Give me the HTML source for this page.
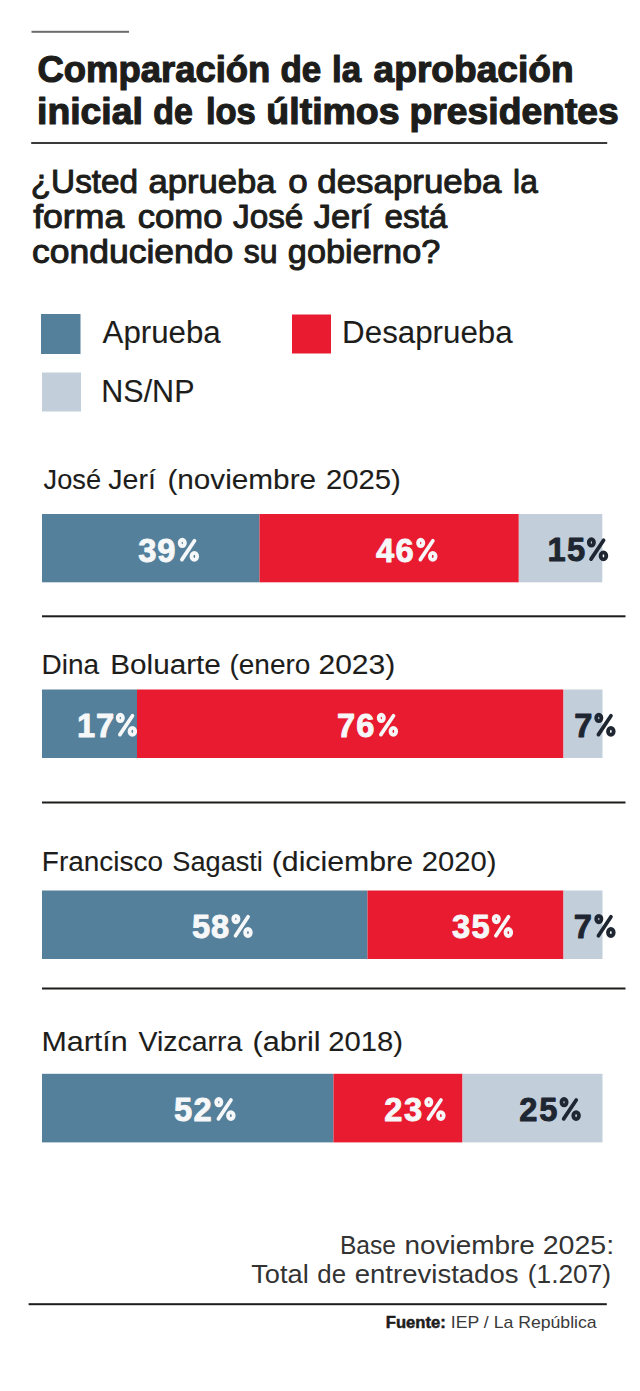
<!DOCTYPE html>
<html><head><meta charset="utf-8"><title>Comparación de la aprobación inicial</title>
<style>
html,body{margin:0;padding:0;background:#fff;width:640px;height:1391px;overflow:hidden}
svg{display:block;font-family:"Liberation Sans",sans-serif}
</style></head><body>
<svg width="640" height="1391" viewBox="0 0 640 1391">
<rect width="640" height="1391" fill="#ffffff"/>

<rect x="31.5" y="30.8" width="97.5" height="2" fill="#6b6b6b"/>
<rect x="31.2" y="142" width="576" height="2" fill="#3a3a3a"/>
<rect x="41" y="314" width="39.5" height="40" fill="#55809b"/>
<rect x="292" y="314.5" width="39" height="39" fill="#e91b30"/>
<rect x="42" y="372.5" width="39" height="39" fill="#c2cfdb"/>

<rect x="42" y="514" width="217.5" height="68.3" fill="#55809b"/>
<rect x="259.5" y="514" width="259.3" height="68.3" fill="#e91b30"/>
<rect x="518.8" y="514" width="83.5" height="68.3" fill="#c2cfdb"/>
<rect x="42" y="615.3" width="583.5" height="2" fill="#1d1d1b"/>

<rect x="42" y="689.5" width="95" height="68.5" fill="#55809b"/>
<rect x="137" y="689.5" width="426.5" height="68.5" fill="#e91b30"/>
<rect x="563.5" y="689.5" width="39" height="68.5" fill="#c2cfdb"/>
<rect x="42" y="801.5" width="583.5" height="2" fill="#1d1d1b"/>

<rect x="42" y="890.5" width="325.5" height="68.5" fill="#55809b"/>
<rect x="367.5" y="890.5" width="196" height="68.5" fill="#e91b30"/>
<rect x="563.5" y="890.5" width="39" height="68.5" fill="#c2cfdb"/>
<rect x="42" y="987.5" width="583.5" height="2" fill="#1d1d1b"/>

<rect x="42" y="1073.8" width="291.5" height="68.6" fill="#55809b"/>
<rect x="333.5" y="1073.8" width="129" height="68.6" fill="#e91b30"/>
<rect x="462.5" y="1073.8" width="140" height="68.6" fill="#c2cfdb"/>

<rect x="28.6" y="1303.2" width="578.2" height="2" fill="#1d1d1b"/>

<text transform="translate(37.45 81.90) scale(0.9762 1)" font-size="37.35" font-weight="bold" fill="#1d1d1b" stroke="#1d1d1b" stroke-width="1.2" stroke-linejoin="round">Comparación</text>
<text transform="translate(280.47 81.90) scale(0.9369 1)" font-size="37.35" font-weight="bold" fill="#1d1d1b" stroke="#1d1d1b" stroke-width="1.2" stroke-linejoin="round">de</text>
<text transform="translate(332.08 81.90) scale(0.9354 1)" font-size="37.35" font-weight="bold" fill="#1d1d1b" stroke="#1d1d1b" stroke-width="1.2" stroke-linejoin="round">la</text>
<text transform="translate(373.62 81.90) scale(0.9938 1)" font-size="37.35" font-weight="bold" fill="#1d1d1b" stroke="#1d1d1b" stroke-width="1.2" stroke-linejoin="round">aprobación</text>
<text transform="translate(37.07 124.20) scale(0.9991 1)" font-size="37.35" font-weight="bold" fill="#1d1d1b" stroke="#1d1d1b" stroke-width="1.2" stroke-linejoin="round">inicial</text>
<text transform="translate(153.24 124.20) scale(0.9076 1)" font-size="37.35" font-weight="bold" fill="#1d1d1b" stroke="#1d1d1b" stroke-width="1.2" stroke-linejoin="round">de</text>
<text transform="translate(205.89 124.20) scale(0.9255 1)" font-size="37.35" font-weight="bold" fill="#1d1d1b" stroke="#1d1d1b" stroke-width="1.2" stroke-linejoin="round">los</text>
<text transform="translate(266.34 124.20) scale(1.0038 1)" font-size="37.35" font-weight="bold" fill="#1d1d1b" stroke="#1d1d1b" stroke-width="1.2" stroke-linejoin="round">últimos</text>
<text transform="translate(409.52 124.20) scale(0.9986 1)" font-size="37.35" font-weight="bold" fill="#1d1d1b" stroke="#1d1d1b" stroke-width="1.2" stroke-linejoin="round">presidentes</text>
<text transform="translate(30.72 193.25) scale(1.0081 1)" font-size="33.07" font-weight="normal" fill="#1d1d1b" stroke="#1d1d1b" stroke-width="1.0" stroke-linejoin="round">¿Usted</text>
<text transform="translate(148.44 193.25) scale(1.0483 1)" font-size="33.07" font-weight="normal" fill="#1d1d1b" stroke="#1d1d1b" stroke-width="1.0" stroke-linejoin="round">aprueba</text>
<text transform="translate(288.34 193.25) scale(1.0578 1)" font-size="33.07" font-weight="normal" fill="#1d1d1b" stroke="#1d1d1b" stroke-width="1.0" stroke-linejoin="round">o</text>
<text transform="translate(317.24 193.25) scale(1.0552 1)" font-size="33.07" font-weight="normal" fill="#1d1d1b" stroke="#1d1d1b" stroke-width="1.0" stroke-linejoin="round">desaprueba</text>
<text transform="translate(513.10 193.25) scale(0.9566 1)" font-size="33.07" font-weight="normal" fill="#1d1d1b" stroke="#1d1d1b" stroke-width="1.0" stroke-linejoin="round">la</text>
<text transform="translate(33.14 228.25) scale(1.0778 1)" font-size="33.07" font-weight="normal" fill="#1d1d1b" stroke="#1d1d1b" stroke-width="1.0" stroke-linejoin="round">forma</text>
<text transform="translate(137.74 228.25) scale(1.0480 1)" font-size="33.07" font-weight="normal" fill="#1d1d1b" stroke="#1d1d1b" stroke-width="1.0" stroke-linejoin="round">como</text>
<text transform="translate(232.98 228.25) scale(1.0074 1)" font-size="33.07" font-weight="normal" fill="#1d1d1b" stroke="#1d1d1b" stroke-width="1.0" stroke-linejoin="round">José</text>
<text transform="translate(313.68 228.25) scale(1.0463 1)" font-size="33.07" font-weight="normal" fill="#1d1d1b" stroke="#1d1d1b" stroke-width="1.0" stroke-linejoin="round">Jerí</text>
<text transform="translate(384.46 228.25) scale(1.0051 1)" font-size="33.07" font-weight="normal" fill="#1d1d1b" stroke="#1d1d1b" stroke-width="1.0" stroke-linejoin="round">está</text>
<text transform="translate(31.93 263.25) scale(1.0743 1)" font-size="33.07" font-weight="normal" fill="#1d1d1b" stroke="#1d1d1b" stroke-width="1.0" stroke-linejoin="round">conduciendo</text>
<text transform="translate(243.68 263.25) scale(0.9687 1)" font-size="33.07" font-weight="normal" fill="#1d1d1b" stroke="#1d1d1b" stroke-width="1.0" stroke-linejoin="round">su</text>
<text transform="translate(287.85 263.25) scale(1.0367 1)" font-size="33.07" font-weight="normal" fill="#1d1d1b" stroke="#1d1d1b" stroke-width="1.0" stroke-linejoin="round">gobierno?</text>
<text transform="translate(102.55 343.15) scale(0.9912 1)" font-size="31.54" font-weight="normal" fill="#1d1d1b" stroke="#1d1d1b" stroke-width="0.1" stroke-linejoin="round">Aprueba</text>
<text transform="translate(342.10 343.15) scale(0.9931 1)" font-size="31.54" font-weight="normal" fill="#1d1d1b" stroke="#1d1d1b" stroke-width="0.1" stroke-linejoin="round">Desaprueba</text>
<text transform="translate(101.26 401.95) scale(0.9811 1)" font-size="31.10" font-weight="normal" fill="#1d1d1b" stroke="#1d1d1b" stroke-width="0.1" stroke-linejoin="round">NS/NP</text>
<text transform="translate(43.62 488.65) scale(0.9593 1)" font-size="28.34" font-weight="normal" fill="#1d1d1b" stroke="#1d1d1b" stroke-width="0.1" stroke-linejoin="round">José</text>
<text transform="translate(108.36 488.65) scale(1.0053 1)" font-size="28.34" font-weight="normal" fill="#1d1d1b" stroke="#1d1d1b" stroke-width="0.1" stroke-linejoin="round">Jerí</text>
<text transform="translate(167.41 488.65) scale(1.0492 1)" font-size="28.34" font-weight="normal" fill="#1d1d1b" stroke="#1d1d1b" stroke-width="0.1" stroke-linejoin="round">(noviembre</text>
<text transform="translate(325.88 488.65) scale(1.0345 1)" font-size="28.34" font-weight="normal" fill="#1d1d1b" stroke="#1d1d1b" stroke-width="0.1" stroke-linejoin="round">2025)</text>
<text transform="translate(41.61 674.15) scale(0.9875 1)" font-size="28.34" font-weight="normal" fill="#1d1d1b" stroke="#1d1d1b" stroke-width="0.1" stroke-linejoin="round">Dina</text>
<text transform="translate(110.23 674.15) scale(1.0479 1)" font-size="28.34" font-weight="normal" fill="#1d1d1b" stroke="#1d1d1b" stroke-width="0.1" stroke-linejoin="round">Boluarte</text>
<text transform="translate(229.44 674.15) scale(0.9893 1)" font-size="28.34" font-weight="normal" fill="#1d1d1b" stroke="#1d1d1b" stroke-width="0.1" stroke-linejoin="round">(enero</text>
<text transform="translate(318.44 674.15) scale(1.0602 1)" font-size="28.34" font-weight="normal" fill="#1d1d1b" stroke="#1d1d1b" stroke-width="0.1" stroke-linejoin="round">2023)</text>
<text transform="translate(41.87 870.75) scale(0.9859 1)" font-size="28.34" font-weight="normal" fill="#1d1d1b" stroke="#1d1d1b" stroke-width="0.1" stroke-linejoin="round">Francisco</text>
<text transform="translate(172.30 870.75) scale(0.9588 1)" font-size="28.34" font-weight="normal" fill="#1d1d1b" stroke="#1d1d1b" stroke-width="0.1" stroke-linejoin="round">Sagasti</text>
<text transform="translate(271.73 870.75) scale(1.0683 1)" font-size="28.34" font-weight="normal" fill="#1d1d1b" stroke="#1d1d1b" stroke-width="0.1" stroke-linejoin="round">(diciembre</text>
<text transform="translate(421.78 870.75) scale(1.0302 1)" font-size="28.34" font-weight="normal" fill="#1d1d1b" stroke="#1d1d1b" stroke-width="0.1" stroke-linejoin="round">2020)</text>
<text transform="translate(41.43 1050.95) scale(1.0735 1)" font-size="28.34" font-weight="normal" fill="#1d1d1b" stroke="#1d1d1b" stroke-width="0.1" stroke-linejoin="round">Martín</text>
<text transform="translate(138.45 1050.95) scale(1.0047 1)" font-size="28.34" font-weight="normal" fill="#1d1d1b" stroke="#1d1d1b" stroke-width="0.1" stroke-linejoin="round">Vizcarra</text>
<text transform="translate(252.62 1050.95) scale(1.0801 1)" font-size="28.34" font-weight="normal" fill="#1d1d1b" stroke="#1d1d1b" stroke-width="0.1" stroke-linejoin="round">(abril</text>
<text transform="translate(328.18 1050.95) scale(1.0330 1)" font-size="28.34" font-weight="normal" fill="#1d1d1b" stroke="#1d1d1b" stroke-width="0.1" stroke-linejoin="round">2018)</text>
<text transform="translate(339.98 1253.50) scale(0.9446 1)" font-size="26.02" font-weight="normal" fill="#333333">Base</text>
<text transform="translate(404.50 1253.50) scale(1.0733 1)" font-size="26.02" font-weight="normal" fill="#333333">noviembre</text>
<text transform="translate(542.66 1253.50) scale(1.0985 1)" font-size="26.02" font-weight="normal" fill="#333333">2025:</text>
<text transform="translate(251.28 1282.50) scale(1.0448 1)" font-size="26.02" font-weight="normal" fill="#333333">Total</text>
<text transform="translate(317.29 1282.50) scale(0.9937 1)" font-size="26.02" font-weight="normal" fill="#333333">de</text>
<text transform="translate(354.74 1282.50) scale(1.0587 1)" font-size="26.02" font-weight="normal" fill="#333333">entrevistados</text>
<text transform="translate(527.77 1282.50) scale(1.0110 1)" font-size="26.02" font-weight="normal" fill="#333333">(1.207)</text>
<text transform="translate(385.82 1327.75) scale(1.0487 1)" font-size="15.84" font-weight="bold" fill="#1d1d1b" stroke="#1d1d1b" stroke-width="0.5" stroke-linejoin="round">Fuente:</text>
<text transform="translate(450.82 1328.00) scale(1.0658 1)" font-size="16.57" font-weight="normal" fill="#3a3a3a">IEP / La República</text>
<text x="138.25" y="561.55" font-size="32.70" font-weight="bold" fill="#f6f7f8" stroke="#f6f7f8" stroke-width="0.9" stroke-linejoin="round">3</text>
<text x="157.26" y="561.55" font-size="32.70" font-weight="bold" fill="#f6f7f8" stroke="#f6f7f8" stroke-width="0.9" stroke-linejoin="round">9</text>
<line x1="194.50" y1="540.70" x2="181.90" y2="559.60" stroke="#f6f7f8" stroke-width="3.7" stroke-linecap="round"/><ellipse cx="182.30" cy="542.95" rx="2.55" ry="3.20" fill="none" stroke="#f6f7f8" stroke-width="3.90"/><ellipse cx="194.35" cy="556.35" rx="2.80" ry="3.50" fill="none" stroke="#f6f7f8" stroke-width="3.90"/>
<text x="375.98" y="561.55" font-size="32.70" font-weight="bold" fill="#f6f7f8" stroke="#f6f7f8" stroke-width="0.9" stroke-linejoin="round">4</text>
<text x="395.53" y="561.55" font-size="32.70" font-weight="bold" fill="#f6f7f8" stroke="#f6f7f8" stroke-width="0.9" stroke-linejoin="round">6</text>
<line x1="432.90" y1="540.70" x2="420.30" y2="559.60" stroke="#f6f7f8" stroke-width="3.7" stroke-linecap="round"/><ellipse cx="420.70" cy="542.95" rx="2.55" ry="3.20" fill="none" stroke="#f6f7f8" stroke-width="3.90"/><ellipse cx="432.75" cy="556.35" rx="2.80" ry="3.50" fill="none" stroke="#f6f7f8" stroke-width="3.90"/>
<text x="547.59" y="561.05" font-size="32.70" font-weight="bold" fill="#1e2631" stroke="#1e2631" stroke-width="0.9" stroke-linejoin="round">1</text>
<text x="566.96" y="561.05" font-size="32.70" font-weight="bold" fill="#1e2631" stroke="#1e2631" stroke-width="0.9" stroke-linejoin="round">5</text>
<line x1="603.60" y1="540.20" x2="591.00" y2="559.10" stroke="#1e2631" stroke-width="3.7" stroke-linecap="round"/><ellipse cx="591.40" cy="542.45" rx="2.55" ry="3.20" fill="none" stroke="#1e2631" stroke-width="3.90"/><ellipse cx="603.45" cy="555.85" rx="2.80" ry="3.50" fill="none" stroke="#1e2631" stroke-width="3.90"/>
<text x="76.98" y="736.55" font-size="32.70" font-weight="bold" fill="#f6f7f8" stroke="#f6f7f8" stroke-width="0.9" stroke-linejoin="round">1</text>
<text x="96.02" y="736.55" font-size="32.70" font-weight="bold" fill="#f6f7f8" stroke="#f6f7f8" stroke-width="0.9" stroke-linejoin="round">7</text>
<line x1="132.50" y1="715.70" x2="119.90" y2="734.60" stroke="#f6f7f8" stroke-width="3.7" stroke-linecap="round"/><ellipse cx="120.30" cy="717.95" rx="2.55" ry="3.20" fill="none" stroke="#f6f7f8" stroke-width="3.90"/><ellipse cx="132.35" cy="731.35" rx="2.80" ry="3.50" fill="none" stroke="#f6f7f8" stroke-width="3.90"/>
<text x="337.06" y="736.55" font-size="32.70" font-weight="bold" fill="#f6f7f8" stroke="#f6f7f8" stroke-width="0.9" stroke-linejoin="round">7</text>
<text x="356.20" y="736.55" font-size="32.70" font-weight="bold" fill="#f6f7f8" stroke="#f6f7f8" stroke-width="0.9" stroke-linejoin="round">6</text>
<line x1="393.50" y1="715.70" x2="380.90" y2="734.60" stroke="#f6f7f8" stroke-width="3.7" stroke-linecap="round"/><ellipse cx="381.30" cy="717.95" rx="2.55" ry="3.20" fill="none" stroke="#f6f7f8" stroke-width="3.90"/><ellipse cx="393.35" cy="731.35" rx="2.80" ry="3.50" fill="none" stroke="#f6f7f8" stroke-width="3.90"/>
<text x="574.26" y="736.55" font-size="32.70" font-weight="bold" fill="#1e2631" stroke="#1e2631" stroke-width="0.9" stroke-linejoin="round">7</text>
<line x1="611.00" y1="715.70" x2="598.40" y2="734.60" stroke="#1e2631" stroke-width="3.7" stroke-linecap="round"/><ellipse cx="598.80" cy="717.95" rx="2.55" ry="3.20" fill="none" stroke="#1e2631" stroke-width="3.90"/><ellipse cx="610.85" cy="731.35" rx="2.80" ry="3.50" fill="none" stroke="#1e2631" stroke-width="3.90"/>
<text x="191.96" y="937.65" font-size="32.70" font-weight="bold" fill="#f6f7f8" stroke="#f6f7f8" stroke-width="0.9" stroke-linejoin="round">5</text>
<text x="210.90" y="937.65" font-size="32.70" font-weight="bold" fill="#f6f7f8" stroke="#f6f7f8" stroke-width="0.9" stroke-linejoin="round">8</text>
<line x1="248.10" y1="916.80" x2="235.50" y2="935.70" stroke="#f6f7f8" stroke-width="3.7" stroke-linecap="round"/><ellipse cx="235.90" cy="919.05" rx="2.55" ry="3.20" fill="none" stroke="#f6f7f8" stroke-width="3.90"/><ellipse cx="247.95" cy="932.45" rx="2.80" ry="3.50" fill="none" stroke="#f6f7f8" stroke-width="3.90"/>
<text x="452.06" y="937.65" font-size="32.70" font-weight="bold" fill="#f6f7f8" stroke="#f6f7f8" stroke-width="0.9" stroke-linejoin="round">3</text>
<text x="471.46" y="937.65" font-size="32.70" font-weight="bold" fill="#f6f7f8" stroke="#f6f7f8" stroke-width="0.9" stroke-linejoin="round">5</text>
<line x1="508.50" y1="916.80" x2="495.90" y2="935.70" stroke="#f6f7f8" stroke-width="3.7" stroke-linecap="round"/><ellipse cx="496.30" cy="919.05" rx="2.55" ry="3.20" fill="none" stroke="#f6f7f8" stroke-width="3.90"/><ellipse cx="508.35" cy="932.45" rx="2.80" ry="3.50" fill="none" stroke="#f6f7f8" stroke-width="3.90"/>
<text x="573.76" y="937.65" font-size="32.70" font-weight="bold" fill="#1e2631" stroke="#1e2631" stroke-width="0.9" stroke-linejoin="round">7</text>
<line x1="611.00" y1="916.80" x2="598.40" y2="935.70" stroke="#1e2631" stroke-width="3.7" stroke-linecap="round"/><ellipse cx="598.80" cy="919.05" rx="2.55" ry="3.20" fill="none" stroke="#1e2631" stroke-width="3.90"/><ellipse cx="610.85" cy="932.45" rx="2.80" ry="3.50" fill="none" stroke="#1e2631" stroke-width="3.90"/>
<text x="174.11" y="1120.80" font-size="32.70" font-weight="bold" fill="#f6f7f8" stroke="#f6f7f8" stroke-width="0.9" stroke-linejoin="round">5</text>
<text x="193.55" y="1120.80" font-size="32.70" font-weight="bold" fill="#f6f7f8" stroke="#f6f7f8" stroke-width="0.9" stroke-linejoin="round">2</text>
<line x1="231.00" y1="1099.95" x2="218.40" y2="1118.85" stroke="#f6f7f8" stroke-width="3.7" stroke-linecap="round"/><ellipse cx="218.80" cy="1102.20" rx="2.55" ry="3.20" fill="none" stroke="#f6f7f8" stroke-width="3.90"/><ellipse cx="230.85" cy="1115.60" rx="2.80" ry="3.50" fill="none" stroke="#f6f7f8" stroke-width="3.90"/>
<text x="384.30" y="1120.80" font-size="32.70" font-weight="bold" fill="#f6f7f8" stroke="#f6f7f8" stroke-width="0.9" stroke-linejoin="round">2</text>
<text x="403.96" y="1120.80" font-size="32.70" font-weight="bold" fill="#f6f7f8" stroke="#f6f7f8" stroke-width="0.9" stroke-linejoin="round">3</text>
<line x1="441.00" y1="1099.95" x2="428.40" y2="1118.85" stroke="#f6f7f8" stroke-width="3.7" stroke-linecap="round"/><ellipse cx="428.80" cy="1102.20" rx="2.55" ry="3.20" fill="none" stroke="#f6f7f8" stroke-width="3.90"/><ellipse cx="440.85" cy="1115.60" rx="2.80" ry="3.50" fill="none" stroke="#f6f7f8" stroke-width="3.90"/>
<text x="519.36" y="1120.80" font-size="32.70" font-weight="bold" fill="#1e2631" stroke="#1e2631" stroke-width="0.9" stroke-linejoin="round">2</text>
<text x="539.15" y="1120.80" font-size="32.70" font-weight="bold" fill="#1e2631" stroke="#1e2631" stroke-width="0.9" stroke-linejoin="round">5</text>
<line x1="576.25" y1="1099.95" x2="563.65" y2="1118.85" stroke="#1e2631" stroke-width="3.7" stroke-linecap="round"/><ellipse cx="564.05" cy="1102.20" rx="2.55" ry="3.20" fill="none" stroke="#1e2631" stroke-width="3.90"/><ellipse cx="576.10" cy="1115.60" rx="2.80" ry="3.50" fill="none" stroke="#1e2631" stroke-width="3.90"/>
</svg>
</body></html>
